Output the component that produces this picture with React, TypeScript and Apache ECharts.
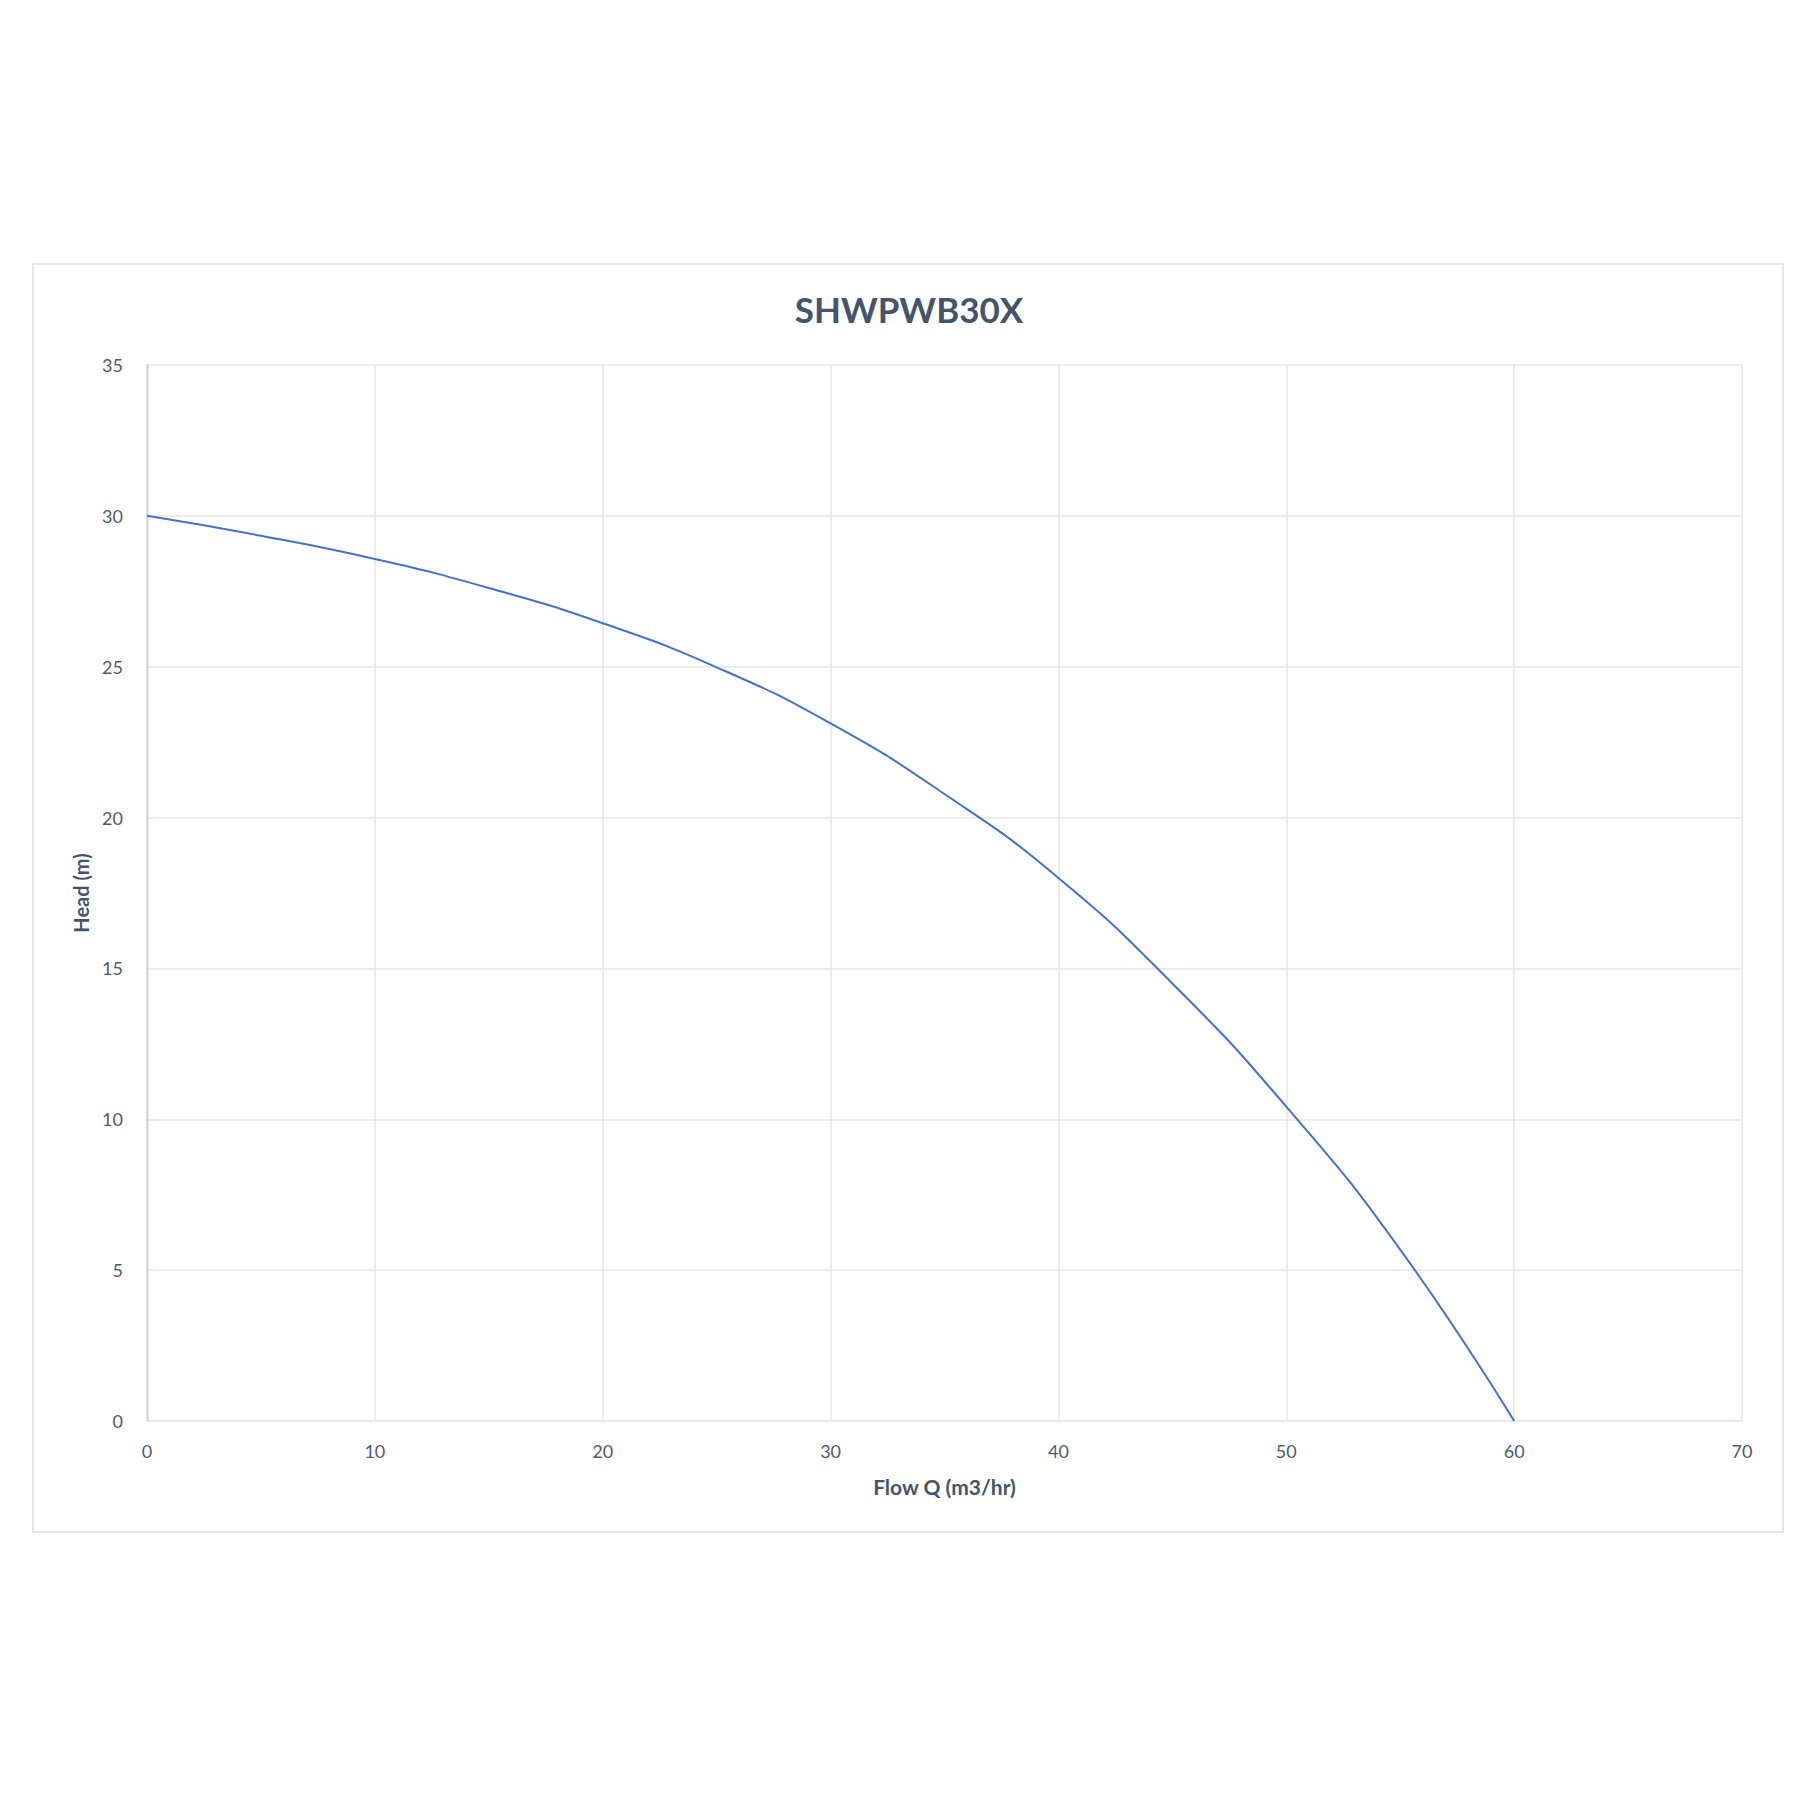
import React, { useEffect, useRef } from "react";
import * as echarts from "echarts";

const flow = [0, 5, 10, 15, 20, 25, 30, 35, 40, 45, 50, 55, 60];
const head = [30, 29.34, 28.57, 27.61, 26.44, 24.98, 23.12, 20.78, 18.0, 14.5, 10.42, 5.68, 0];
const chartTitle = "SHWPWB30X";
const xTitle = "Flow Q (m3/hr)";
const yTitle = "Head (m)";

const FONT = "Lato, 'Open Sans', sans-serif";
const LABEL_COLOR = "#4F5B6E";
const TITLE_COLOR = "#44546A";
const GRID_COLOR = "#E3E6EE";

export default function App() {
  const ref = useRef<HTMLDivElement>(null);
  useEffect(() => {
    if (!ref.current) return;
    const chart = echarts.init(ref.current, undefined, { renderer: "svg" });
    chart.setOption({
      animation: false,
      backgroundColor: "#ffffff",
      graphic: [
        {
          type: "rect",
          shape: { x: 33, y: 264, width: 1750, height: 1268 },
          style: { fill: "none", stroke: "#DCDFE6", lineWidth: 1.5 },
          z: -10,
        },
      ],
      title: {
        text: chartTitle,
        left: 904,
        top: 286,
        textAlign: "center",
        textStyle: { fontFamily: FONT, fontSize: 35, fontWeight: "bold", color: TITLE_COLOR },
      },
      grid: { left: 147, top: 365, width: 1595, height: 1056, containLabel: false },
      xAxis: {
        type: "value",
        min: 0,
        max: 70,
        interval: 10,
        name: xTitle,
        nameLocation: "middle",
        nameGap: 55,
        nameTextStyle: { fontFamily: FONT, fontSize: 21, fontWeight: "bold", color: TITLE_COLOR },
        axisLine: { show: true, lineStyle: { color: GRID_COLOR, width: 1.5 } },
        axisTick: { show: false },
        axisLabel: { fontFamily: FONT, fontSize: 18, color: LABEL_COLOR, margin: 21 },
        splitLine: { show: true, lineStyle: { color: GRID_COLOR, width: 1.5 } },
      },
      yAxis: {
        type: "value",
        min: 0,
        max: 35,
        interval: 5,
        name: yTitle,
        nameLocation: "middle",
        nameGap: 56,
        nameTextStyle: { fontFamily: FONT, fontSize: 20, fontWeight: "bold", color: TITLE_COLOR },
        axisLine: { show: true, lineStyle: { color: "#D3D8E2", width: 2.5 } },
        axisTick: { show: false },
        axisLabel: { fontFamily: FONT, fontSize: 18, color: LABEL_COLOR, margin: 24 },
        splitLine: { show: true, lineStyle: { color: GRID_COLOR, width: 1.5 } },
      },
      series: [
        {
          type: "line",
          data: flow.map((f, i) => [f, head[i]]),
          smooth: 0.5,
          showSymbol: false,
          lineStyle: { color: "#4472C4", width: 2 },
        },
      ],
    });
    return () => chart.dispose();
  }, []);
  return (
    <div
      ref={ref}
      style={{ position: "fixed", left: 0, top: 0, width: 1800, height: 1800 }}
    />
  );
}
